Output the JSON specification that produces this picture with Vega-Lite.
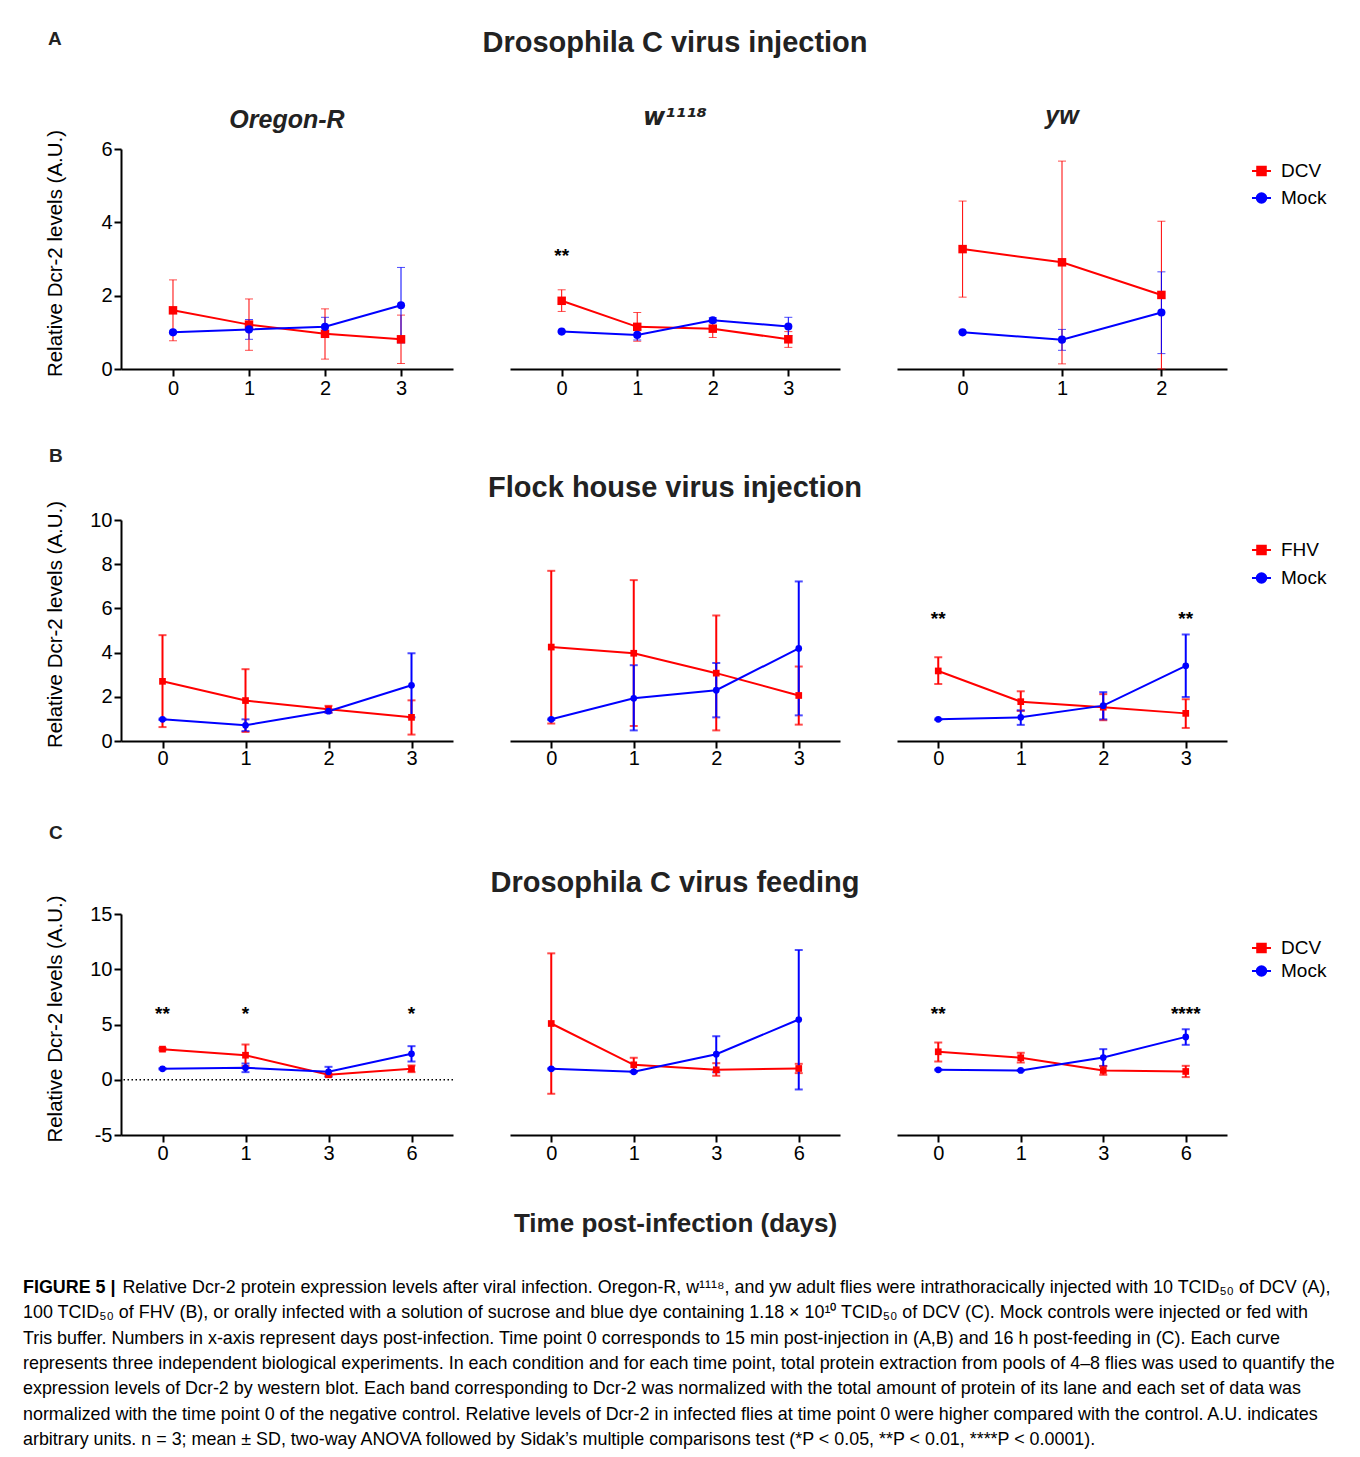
{
"$schema":"https://vega.github.io/schema/vega-lite/v6.json",
"background":"white",
"padding":{"left":22,"top":29,"right":5,"bottom":5},
"config":{
 "font":"Liberation Sans",
 "view":{"stroke":null},
 "axis":{"domainColor":"black","domainWidth":2,"tickColor":"black","tickWidth":2,"tickSize":7,"labelFont":"Liberation Sans","labelFontSize":20,"labelColor":"black","titleFont":"Liberation Sans","titleColor":"black","grid":false,"labelFlush":false},
 "title":{"color":"#222222","font":"Liberation Sans","subtitleFont":"Liberation Sans","subtitleColor":"#222222"},
 "legend":{"labelFont":"Liberation Sans"}
},
"datasets":{
 "pts":[
  {"panel":"A1","series":"DCV","day":0,"mean":1.6,"lo":0.77,"hi":2.43},
  {"panel":"A1","series":"DCV","day":1,"mean":1.21,"lo":0.51,"hi":1.91},
  {"panel":"A1","series":"DCV","day":2,"mean":0.96,"lo":0.27,"hi":1.64},
  {"panel":"A1","series":"DCV","day":3,"mean":0.81,"lo":0.15,"hi":1.47},
  {"panel":"A1","series":"Mock","day":0,"mean":1.0,"lo":0.97,"hi":1.03},
  {"panel":"A1","series":"Mock","day":1,"mean":1.08,"lo":0.81,"hi":1.35},
  {"panel":"A1","series":"Mock","day":2,"mean":1.15,"lo":0.89,"hi":1.41},
  {"panel":"A1","series":"Mock","day":3,"mean":1.74,"lo":0.71,"hi":2.77},
  {"panel":"A2","series":"DCV","day":0,"mean":1.86,"lo":1.57,"hi":2.16},
  {"panel":"A2","series":"DCV","day":1,"mean":1.15,"lo":0.76,"hi":1.54},
  {"panel":"A2","series":"DCV","day":2,"mean":1.1,"lo":0.86,"hi":1.34},
  {"panel":"A2","series":"DCV","day":3,"mean":0.81,"lo":0.59,"hi":1.02},
  {"panel":"A2","series":"Mock","day":0,"mean":1.02,"lo":1.0,"hi":1.04},
  {"panel":"A2","series":"Mock","day":1,"mean":0.93,"lo":0.79,"hi":1.07},
  {"panel":"A2","series":"Mock","day":2,"mean":1.33,"lo":1.26,"hi":1.4},
  {"panel":"A2","series":"Mock","day":3,"mean":1.16,"lo":0.91,"hi":1.41},
  {"panel":"A3","series":"DCV","day":0,"mean":3.27,"lo":1.96,"hi":4.58},
  {"panel":"A3","series":"DCV","day":1,"mean":2.91,"lo":0.14,"hi":5.67},
  {"panel":"A3","series":"DCV","day":2,"mean":2.02,"lo":0.0,"hi":4.03},
  {"panel":"A3","series":"Mock","day":0,"mean":1.0,"lo":0.98,"hi":1.02},
  {"panel":"A3","series":"Mock","day":1,"mean":0.8,"lo":0.51,"hi":1.08},
  {"panel":"A3","series":"Mock","day":2,"mean":1.54,"lo":0.42,"hi":2.65},
  {"panel":"B1","series":"FHV","day":0,"mean":2.7,"lo":0.63,"hi":4.79},
  {"panel":"B1","series":"FHV","day":1,"mean":1.83,"lo":0.41,"hi":3.25},
  {"panel":"B1","series":"FHV","day":2,"mean":1.44,"lo":1.29,"hi":1.59},
  {"panel":"B1","series":"FHV","day":3,"mean":1.07,"lo":0.29,"hi":1.84},
  {"panel":"B1","series":"Mock","day":0,"mean":0.98,"lo":0.95,"hi":1.01},
  {"panel":"B1","series":"Mock","day":1,"mean":0.71,"lo":0.45,"hi":0.98},
  {"panel":"B1","series":"Mock","day":2,"mean":1.35,"lo":1.28,"hi":1.42},
  {"panel":"B1","series":"Mock","day":3,"mean":2.52,"lo":1.07,"hi":3.97},
  {"panel":"B2","series":"FHV","day":0,"mean":4.25,"lo":0.79,"hi":7.7},
  {"panel":"B2","series":"FHV","day":1,"mean":3.97,"lo":0.68,"hi":7.28},
  {"panel":"B2","series":"FHV","day":2,"mean":3.07,"lo":0.48,"hi":5.68},
  {"panel":"B2","series":"FHV","day":3,"mean":2.06,"lo":0.74,"hi":3.37},
  {"panel":"B2","series":"Mock","day":0,"mean":0.98,"lo":0.95,"hi":1.01},
  {"panel":"B2","series":"Mock","day":1,"mean":1.93,"lo":0.48,"hi":3.43},
  {"panel":"B2","series":"Mock","day":2,"mean":2.3,"lo":1.07,"hi":3.53},
  {"panel":"B2","series":"Mock","day":3,"mean":4.19,"lo":1.16,"hi":7.22},
  {"panel":"B3","series":"FHV","day":0,"mean":3.17,"lo":2.58,"hi":3.79},
  {"panel":"B3","series":"FHV","day":1,"mean":1.78,"lo":1.36,"hi":2.25},
  {"panel":"B3","series":"FHV","day":2,"mean":1.53,"lo":0.94,"hi":2.12},
  {"panel":"B3","series":"FHV","day":3,"mean":1.25,"lo":0.59,"hi":1.89},
  {"panel":"B3","series":"Mock","day":0,"mean":0.98,"lo":0.95,"hi":1.01},
  {"panel":"B3","series":"Mock","day":1,"mean":1.07,"lo":0.73,"hi":1.39},
  {"panel":"B3","series":"Mock","day":2,"mean":1.6,"lo":0.98,"hi":2.21},
  {"panel":"B3","series":"Mock","day":3,"mean":3.4,"lo":1.99,"hi":4.82},
  {"panel":"C1","series":"DCV","day":0,"mean":2.77,"lo":2.67,"hi":2.87},
  {"panel":"C1","series":"DCV","day":1,"mean":2.22,"lo":1.25,"hi":3.19},
  {"panel":"C1","series":"DCV","day":3,"mean":0.45,"lo":0.35,"hi":0.55},
  {"panel":"C1","series":"DCV","day":6,"mean":0.99,"lo":0.69,"hi":1.29},
  {"panel":"C1","series":"Mock","day":0,"mean":0.99,"lo":0.94,"hi":1.04},
  {"panel":"C1","series":"Mock","day":1,"mean":1.08,"lo":0.69,"hi":1.47},
  {"panel":"C1","series":"Mock","day":3,"mean":0.72,"lo":0.27,"hi":1.17},
  {"panel":"C1","series":"Mock","day":6,"mean":2.35,"lo":1.65,"hi":3.04},
  {"panel":"C2","series":"DCV","day":0,"mean":5.09,"lo":-1.27,"hi":11.44},
  {"panel":"C2","series":"DCV","day":1,"mean":1.35,"lo":0.72,"hi":1.99},
  {"panel":"C2","series":"DCV","day":3,"mean":0.9,"lo":0.36,"hi":1.5},
  {"panel":"C2","series":"DCV","day":6,"mean":1.02,"lo":0.6,"hi":1.44},
  {"panel":"C2","series":"Mock","day":0,"mean":0.99,"lo":0.94,"hi":1.04},
  {"panel":"C2","series":"Mock","day":1,"mean":0.72,"lo":0.67,"hi":0.77},
  {"panel":"C2","series":"Mock","day":3,"mean":2.31,"lo":0.68,"hi":3.94},
  {"panel":"C2","series":"Mock","day":6,"mean":5.45,"lo":-0.88,"hi":11.74},
  {"panel":"C3","series":"DCV","day":0,"mean":2.53,"lo":1.65,"hi":3.37},
  {"panel":"C3","series":"DCV","day":1,"mean":1.99,"lo":1.56,"hi":2.44},
  {"panel":"C3","series":"DCV","day":3,"mean":0.84,"lo":0.45,"hi":1.23},
  {"panel":"C3","series":"DCV","day":6,"mean":0.75,"lo":0.24,"hi":1.26},
  {"panel":"C3","series":"Mock","day":0,"mean":0.9,"lo":0.85,"hi":0.95},
  {"panel":"C3","series":"Mock","day":1,"mean":0.84,"lo":0.79,"hi":0.89},
  {"panel":"C3","series":"Mock","day":3,"mean":2.01,"lo":1.25,"hi":2.77},
  {"panel":"C3","series":"Mock","day":6,"mean":3.88,"lo":3.16,"hi":4.57}
 ],
 "stars":[
  {"panel":"A2","day":0,"label":"**","y":3.23},
  {"panel":"B3","day":0,"label":"**","y":5.73},
  {"panel":"B3","day":3,"label":"**","y":5.73},
  {"panel":"C1","day":0,"label":"**","y":6.44},
  {"panel":"C1","day":1,"label":"*","y":6.44},
  {"panel":"C1","day":6,"label":"*","y":6.44},
  {"panel":"C3","day":0,"label":"**","y":6.44},
  {"panel":"C3","day":6,"label":"****","y":6.44}
 ],
 "ref":[{"panel":"C1","ref":0}],
 "blank":[{"t":""}]
},
"title":{
 "text":"FIGURE 5 |","orient":"bottom","anchor":"start","frame":"bounds","fontSize":17.9,"fontWeight":"bold","color":"black","dx":-22,"offset":43,"limit":3000,
 "subtitle":[
  "\u200b\u00a0\u00a0\u00a0\u00a0\u00a0\u00a0\u00a0\u00a0\u00a0\u00a0\u00a0\u00a0\u00a0\u00a0\u00a0\u00a0\u00a0\u00a0\u00a0\u00a0Relative Dcr-2 protein expression levels after viral infection. Oregon-R, w¹¹¹⁸, and yw adult flies were intrathoracically injected with 10 TCID₅₀ of DCV (A),",
  "100 TCID₅₀ of FHV (B), or orally infected with a solution of sucrose and blue dye containing 1.18 × 10¹⁰ TCID₅₀ of DCV (C). Mock controls were injected or fed with",
  "Tris buffer. Numbers in x-axis represent days post-infection. Time point 0 corresponds to 15 min post-injection in (A,B) and 16 h post-feeding in (C). Each curve",
  "represents three independent biological experiments. In each condition and for each time point, total protein extraction from pools of 4–8 flies was used to quantify the",
  "expression levels of Dcr-2 by western blot. Each band corresponding to Dcr-2 was normalized with the total amount of protein of its lane and each set of data was",
  "normalized with the time point 0 of the negative control. Relative levels of Dcr-2 in infected flies at time point 0 were higher compared with the control. A.U. indicates",
  "arbitrary units. n = 3; mean ± SD, two-way ANOVA followed by Sidak’s multiple comparisons test (*P < 0.05, **P < 0.01, ****P < 0.0001)."
 ],
 "subtitleFontSize":17.9,"subtitleColor":"black","subtitleFontWeight":"normal","subtitleLineHeight":25.3,"subtitlePadding":-17.9
},
"vconcat":[{
 "columns":4,
 "spacing":{"row":151,"column":57},
 "bounds":"flush",
 "align":"each",
 "title":{"text":"A","anchor":"start","fontSize":19,"fontWeight":"bold","offset":0,"dy":20,"dx":3},
 "resolve":{"scale":{"color":"independent","shape":"independent","x":"independent","y":"independent"},"legend":{"color":"independent","shape":"independent"}},
 "concat":[
  {"width":332,"height":220,
   "title":{"text":"Oregon-R","fontSize":25,"fontWeight":"bold","fontStyle":"italic","offset":-3.5,"frame":"group","anchor":"middle","limit":1000},
   "data":{"name":"pts"},"transform":[{"filter":"datum.panel === 'A1'"}],
   "encoding":{"x":{"field":"day","type":"ordinal","scale":{"type":"point","domain":[0,1,2,3],"padding":0.684},"axis":{"labelAngle":0,"labelPadding":2,"title":null}},
    "color":{"field":"series","type":"nominal","scale":{"domain":["DCV","Mock"],"range":["#ff0000","#0000ff"]},"legend":null}},
   "layer":[
    {"mark":{"type":"errorbar","ticks":true,"size":8,"thickness":1},
     "encoding":{"y":{"field":"lo","type":"quantitative","scale":{"domain":[0,6],"nice":false,"zero":false},"axis":{"values":[0,2,4,6],"title":"Relative Dcr-2 levels (A.U.)","titleFontSize":20.5,"titleFontWeight":"normal","titleX":-60,"titleY":104,"titleAngle":270,"titleAlign":"center","titleBaseline":"alphabetic","titleLimit":1000,"labelPadding":2}},"y2":{"field":"hi"}}},
    {"mark":{"type":"line","strokeWidth":2},
     "encoding":{"y":{"field":"mean","type":"quantitative","scale":{"domain":[0,6],"nice":false,"zero":false},"axis":{"values":[0,2,4,6],"title":"Relative Dcr-2 levels (A.U.)","titleFontSize":20.5,"titleFontWeight":"normal","titleX":-60,"titleY":104,"titleAngle":270,"titleAlign":"center","titleBaseline":"alphabetic","titleLimit":1000,"labelPadding":2}}}},
    {"transform":[{"filter":"datum.series !== 'Mock'"}],"mark":{"type":"point","shape":"square","filled":true,"opacity":1,"size":72},
     "encoding":{"y":{"field":"mean","type":"quantitative","scale":{"domain":[0,6],"nice":false,"zero":false},"axis":{"values":[0,2,4,6],"title":"Relative Dcr-2 levels (A.U.)","titleFontSize":20.5,"titleFontWeight":"normal","titleX":-60,"titleY":104,"titleAngle":270,"titleAlign":"center","titleBaseline":"alphabetic","titleLimit":1000,"labelPadding":2}}}},
    {"transform":[{"filter":"datum.series === 'Mock'"}],"mark":{"type":"point","shape":"circle","filled":true,"opacity":1,"size":66},
     "encoding":{"y":{"field":"mean","type":"quantitative","scale":{"domain":[0,6],"nice":false,"zero":false},"axis":{"values":[0,2,4,6],"title":"Relative Dcr-2 levels (A.U.)","titleFontSize":20.5,"titleFontWeight":"normal","titleX":-60,"titleY":104,"titleAngle":270,"titleAlign":"center","titleBaseline":"alphabetic","titleLimit":1000,"labelPadding":2}}}}
   ]},
  {"width":330,"height":220,
   "title":{"text":"Drosophila C virus injection","fontSize":29,"fontWeight":"bold","subtitle":"w¹¹¹⁸","subtitleFont":"DejaVu Sans","subtitleFontSize":24,"subtitleFontWeight":"bold","subtitleFontStyle":"italic","subtitlePadding":48,"offset":19,"frame":"group","anchor":"middle","limit":1000},
   "data":{"name":"pts"},"transform":[{"filter":"datum.panel === 'A2'"}],
   "encoding":{"x":{"field":"day","type":"ordinal","scale":{"type":"point","domain":[0,1,2,3],"padding":0.684},"axis":{"labelAngle":0,"labelPadding":2,"title":null}},
    "color":{"field":"series","type":"nominal","scale":{"domain":["DCV","Mock"],"range":["#ff0000","#0000ff"]},"legend":null}},
   "layer":[
    {"mark":{"type":"errorbar","ticks":true,"size":8,"thickness":1},
     "encoding":{"y":{"field":"lo","type":"quantitative","scale":{"domain":[0,6],"nice":false,"zero":false},"axis":null},"y2":{"field":"hi"}}},
    {"mark":{"type":"line","strokeWidth":2},
     "encoding":{"y":{"field":"mean","type":"quantitative","scale":{"domain":[0,6],"nice":false,"zero":false},"axis":null}}},
    {"transform":[{"filter":"datum.series !== 'Mock'"}],"mark":{"type":"point","shape":"square","filled":true,"opacity":1,"size":72},
     "encoding":{"y":{"field":"mean","type":"quantitative","scale":{"domain":[0,6],"nice":false,"zero":false},"axis":null}}},
    {"transform":[{"filter":"datum.series === 'Mock'"}],"mark":{"type":"point","shape":"circle","filled":true,"opacity":1,"size":66},
     "encoding":{"y":{"field":"mean","type":"quantitative","scale":{"domain":[0,6],"nice":false,"zero":false},"axis":null}}},
    {"data":{"name":"stars"},"transform":[{"filter":"datum.panel === 'A2'"}],
     "mark":{"type":"text","fontSize":19,"fontWeight":"bold","baseline":"middle","align":"center","dy":5},
     "encoding":{"y":{"field":"y","type":"quantitative","scale":{"domain":[0,6],"nice":false,"zero":false},"axis":null},"text":{"field":"label"},"color":{"value":"black"}}}
   ]},
  {"width":330,"height":220,
   "title":{"text":"yw","fontSize":25,"fontWeight":"bold","fontStyle":"italic","offset":20,"frame":"group","anchor":"middle","limit":1000},
   "data":{"name":"pts"},"transform":[{"filter":"datum.panel === 'A3'"}],
   "encoding":{"x":{"field":"day","type":"ordinal","scale":{"type":"point","domain":[0,1,2],"padding":0.66},"axis":{"labelAngle":0,"labelPadding":2,"title":null}},
    "color":{"field":"series","type":"nominal","scale":{"domain":["DCV","Mock"],"range":["#ff0000","#0000ff"]},"legend":{"orient":"none","legendX":354,"legendY":11.5,"title":null,"labelFontSize":19,"labelColor":"black","symbolSize":361,"rowPadding":6,"labelOffset":9,"padding":0,"encode":{"symbols":{"update":{"shape":{"signal":"datum.value === 'Mock' ? 'M-1,0H1M0.5,0A0.5,0.5,0,1,1,-0.5,0A0.5,0.5,0,1,1,0.5,0Z' : 'M-1,0H1M-0.45,-0.45H0.45V0.45H-0.45Z'"},"fill":{"signal":"datum.value === 'Mock' ? '#0000ff' : '#ff0000'"},"stroke":{"signal":"datum.value === 'Mock' ? '#0000ff' : '#ff0000'"},"strokeWidth":{"value":2},"opacity":{"value":1}}}}}}},
   "layer":[
    {"mark":{"type":"errorbar","ticks":true,"size":8,"thickness":1},
     "encoding":{"y":{"field":"lo","type":"quantitative","scale":{"domain":[0,6],"nice":false,"zero":false},"axis":null},"y2":{"field":"hi"}}},
    {"mark":{"type":"line","strokeWidth":2},
     "encoding":{"y":{"field":"mean","type":"quantitative","scale":{"domain":[0,6],"nice":false,"zero":false},"axis":null}}},
    {"transform":[{"filter":"datum.series !== 'Mock'"}],"mark":{"type":"point","shape":"square","filled":true,"opacity":1,"size":72},
     "encoding":{"y":{"field":"mean","type":"quantitative","scale":{"domain":[0,6],"nice":false,"zero":false},"axis":null}}},
    {"transform":[{"filter":"datum.series === 'Mock'"}],"mark":{"type":"point","shape":"circle","filled":true,"opacity":1,"size":66},
     "encoding":{"y":{"field":"mean","type":"quantitative","scale":{"domain":[0,6],"nice":false,"zero":false},"axis":null}}}
   ]},
  {"width":1,"height":220,"data":{"name":"blank"},"mark":{"type":"text"},"encoding":{"text":{"field":"t"}}},

  {"width":332,"height":221,
   "title":{"text":"B","fontSize":19,"fontWeight":"bold","offset":34,"frame":"group","anchor":"start","dx":-72},
   "data":{"name":"pts"},"transform":[{"filter":"datum.panel === 'B1'"}],
   "encoding":{"x":{"field":"day","type":"ordinal","scale":{"type":"point","domain":[0,1,2,3],"padding":0.5},"axis":{"labelAngle":0,"labelPadding":0,"title":null}},
    "color":{"field":"series","type":"nominal","scale":{"domain":["FHV","Mock"],"range":["#ff0000","#0000ff"]},"legend":null}},
   "layer":[
    {"mark":{"type":"errorbar","ticks":true,"size":8,"thickness":2},
     "encoding":{"y":{"field":"lo","type":"quantitative","scale":{"domain":[0,10],"nice":false,"zero":false},"axis":{"values":[0,2,4,6,8,10],"title":"Relative Dcr-2 levels (A.U.)","titleFontSize":20.5,"titleFontWeight":"normal","titleX":-60,"titleY":104,"titleAngle":270,"titleAlign":"center","titleBaseline":"alphabetic","titleLimit":1000,"labelPadding":2}},"y2":{"field":"hi"}}},
    {"mark":{"type":"line","strokeWidth":2},
     "encoding":{"y":{"field":"mean","type":"quantitative","scale":{"domain":[0,10],"nice":false,"zero":false},"axis":{"values":[0,2,4,6,8,10],"title":"Relative Dcr-2 levels (A.U.)","titleFontSize":20.5,"titleFontWeight":"normal","titleX":-60,"titleY":104,"titleAngle":270,"titleAlign":"center","titleBaseline":"alphabetic","titleLimit":1000,"labelPadding":2}}}},
    {"transform":[{"filter":"datum.series !== 'Mock'"}],"mark":{"type":"point","shape":"square","filled":true,"opacity":1,"size":45},
     "encoding":{"y":{"field":"mean","type":"quantitative","scale":{"domain":[0,10],"nice":false,"zero":false},"axis":{"values":[0,2,4,6,8,10],"title":"Relative Dcr-2 levels (A.U.)","titleFontSize":20.5,"titleFontWeight":"normal","titleX":-60,"titleY":104,"titleAngle":270,"titleAlign":"center","titleBaseline":"alphabetic","titleLimit":1000,"labelPadding":2}}}},
    {"transform":[{"filter":"datum.series === 'Mock'"}],"mark":{"type":"point","shape":"circle","filled":true,"opacity":1,"size":45},
     "encoding":{"y":{"field":"mean","type":"quantitative","scale":{"domain":[0,10],"nice":false,"zero":false},"axis":{"values":[0,2,4,6,8,10],"title":"Relative Dcr-2 levels (A.U.)","titleFontSize":20.5,"titleFontWeight":"normal","titleX":-60,"titleY":104,"titleAngle":270,"titleAlign":"center","titleBaseline":"alphabetic","titleLimit":1000,"labelPadding":2}}}}
   ]},
  {"width":330,"height":221,
   "title":{"text":"Flock house virus injection","fontSize":29,"fontWeight":"bold","offset":17,"frame":"group","anchor":"middle","limit":1000},
   "data":{"name":"pts"},"transform":[{"filter":"datum.panel === 'B2'"}],
   "encoding":{"x":{"field":"day","type":"ordinal","scale":{"type":"point","domain":[0,1,2,3],"padding":0.5},"axis":{"labelAngle":0,"labelPadding":0,"title":null}},
    "color":{"field":"series","type":"nominal","scale":{"domain":["FHV","Mock"],"range":["#ff0000","#0000ff"]},"legend":null}},
   "layer":[
    {"mark":{"type":"errorbar","ticks":true,"size":8,"thickness":2},
     "encoding":{"y":{"field":"lo","type":"quantitative","scale":{"domain":[0,10],"nice":false,"zero":false},"axis":null},"y2":{"field":"hi"}}},
    {"mark":{"type":"line","strokeWidth":2},
     "encoding":{"y":{"field":"mean","type":"quantitative","scale":{"domain":[0,10],"nice":false,"zero":false},"axis":null}}},
    {"transform":[{"filter":"datum.series !== 'Mock'"}],"mark":{"type":"point","shape":"square","filled":true,"opacity":1,"size":45},
     "encoding":{"y":{"field":"mean","type":"quantitative","scale":{"domain":[0,10],"nice":false,"zero":false},"axis":null}}},
    {"transform":[{"filter":"datum.series === 'Mock'"}],"mark":{"type":"point","shape":"circle","filled":true,"opacity":1,"size":45},
     "encoding":{"y":{"field":"mean","type":"quantitative","scale":{"domain":[0,10],"nice":false,"zero":false},"axis":null}}}
   ]},
  {"width":330,"height":221,
   "data":{"name":"pts"},"transform":[{"filter":"datum.panel === 'B3'"}],
   "encoding":{"x":{"field":"day","type":"ordinal","scale":{"type":"point","domain":[0,1,2,3],"padding":0.5},"axis":{"labelAngle":0,"labelPadding":0,"title":null}},
    "color":{"field":"series","type":"nominal","scale":{"domain":["FHV","Mock"],"range":["#ff0000","#0000ff"]},"legend":{"orient":"none","legendX":354,"legendY":19.5,"title":null,"labelFontSize":19,"labelColor":"black","symbolSize":361,"rowPadding":7,"labelOffset":9,"padding":0,"encode":{"symbols":{"update":{"shape":{"signal":"datum.value === 'Mock' ? 'M-1,0H1M0.5,0A0.5,0.5,0,1,1,-0.5,0A0.5,0.5,0,1,1,0.5,0Z' : 'M-1,0H1M-0.45,-0.45H0.45V0.45H-0.45Z'"},"fill":{"signal":"datum.value === 'Mock' ? '#0000ff' : '#ff0000'"},"stroke":{"signal":"datum.value === 'Mock' ? '#0000ff' : '#ff0000'"},"strokeWidth":{"value":2},"opacity":{"value":1}}}}}}},
   "layer":[
    {"mark":{"type":"errorbar","ticks":true,"size":8,"thickness":2},
     "encoding":{"y":{"field":"lo","type":"quantitative","scale":{"domain":[0,10],"nice":false,"zero":false},"axis":null},"y2":{"field":"hi"}}},
    {"mark":{"type":"line","strokeWidth":2},
     "encoding":{"y":{"field":"mean","type":"quantitative","scale":{"domain":[0,10],"nice":false,"zero":false},"axis":null}}},
    {"transform":[{"filter":"datum.series !== 'Mock'"}],"mark":{"type":"point","shape":"square","filled":true,"opacity":1,"size":45},
     "encoding":{"y":{"field":"mean","type":"quantitative","scale":{"domain":[0,10],"nice":false,"zero":false},"axis":null}}},
    {"transform":[{"filter":"datum.series === 'Mock'"}],"mark":{"type":"point","shape":"circle","filled":true,"opacity":1,"size":45},
     "encoding":{"y":{"field":"mean","type":"quantitative","scale":{"domain":[0,10],"nice":false,"zero":false},"axis":null}}},
    {"data":{"name":"stars"},"transform":[{"filter":"datum.panel === 'B3'"}],
     "mark":{"type":"text","fontSize":19,"fontWeight":"bold","baseline":"middle","align":"center","dy":5},
     "encoding":{"y":{"field":"y","type":"quantitative","scale":{"domain":[0,10],"nice":false,"zero":false},"axis":null},"text":{"field":"label"},"color":{"value":"black"}}}
   ]},
  {"width":1,"height":243,"data":{"name":"blank"},"mark":{"type":"text"},"encoding":{"text":{"field":"t"}}},

  {"width":332,"height":221,
   "title":{"text":"C","fontSize":19,"fontWeight":"bold","offset":52,"frame":"group","anchor":"start","dx":-72},
   "data":{"name":"pts"},"transform":[{"filter":"datum.panel === 'C1'"}],
   "encoding":{"x":{"field":"day","type":"ordinal","scale":{"type":"point","domain":[0,1,3,6],"padding":0.5},"axis":{"labelAngle":0,"labelPadding":1,"title":null}},
    "color":{"field":"series","type":"nominal","scale":{"domain":["DCV","Mock"],"range":["#ff0000","#0000ff"]},"legend":null}},
   "layer":[
    {"data":{"name":"ref"},
     "mark":{"type":"rule","strokeDash":[1.5,2.5],"strokeWidth":1.5},
     "encoding":{"x":null,"color":{"value":"black"},"y":{"field":"ref","type":"quantitative","scale":{"domain":[-5,15],"nice":false,"zero":false},"axis":{"values":[-5,0,5,10,15],"labelExpr":"'' + datum.value","title":"Relative Dcr-2 levels (A.U.)","titleFontSize":20.5,"titleFontWeight":"normal","titleX":-60,"titleY":104.5,"titleAngle":270,"titleAlign":"center","titleBaseline":"alphabetic","titleLimit":1000,"labelPadding":2}}}},
    {"mark":{"type":"errorbar","ticks":true,"size":8,"thickness":2},
     "encoding":{"y":{"field":"lo","type":"quantitative","scale":{"domain":[-5,15],"nice":false,"zero":false},"axis":{"values":[-5,0,5,10,15],"labelExpr":"'' + datum.value","title":"Relative Dcr-2 levels (A.U.)","titleFontSize":20.5,"titleFontWeight":"normal","titleX":-60,"titleY":104.5,"titleAngle":270,"titleAlign":"center","titleBaseline":"alphabetic","titleLimit":1000,"labelPadding":2}},"y2":{"field":"hi"}}},
    {"mark":{"type":"line","strokeWidth":2},
     "encoding":{"y":{"field":"mean","type":"quantitative","scale":{"domain":[-5,15],"nice":false,"zero":false},"axis":{"values":[-5,0,5,10,15],"labelExpr":"'' + datum.value","title":"Relative Dcr-2 levels (A.U.)","titleFontSize":20.5,"titleFontWeight":"normal","titleX":-60,"titleY":104.5,"titleAngle":270,"titleAlign":"center","titleBaseline":"alphabetic","titleLimit":1000,"labelPadding":2}}}},
    {"transform":[{"filter":"datum.series !== 'Mock'"}],"mark":{"type":"point","shape":"square","filled":true,"opacity":1,"size":45},
     "encoding":{"y":{"field":"mean","type":"quantitative","scale":{"domain":[-5,15],"nice":false,"zero":false},"axis":{"values":[-5,0,5,10,15],"labelExpr":"'' + datum.value","title":"Relative Dcr-2 levels (A.U.)","titleFontSize":20.5,"titleFontWeight":"normal","titleX":-60,"titleY":104.5,"titleAngle":270,"titleAlign":"center","titleBaseline":"alphabetic","titleLimit":1000,"labelPadding":2}}}},
    {"transform":[{"filter":"datum.series === 'Mock'"}],"mark":{"type":"point","shape":"circle","filled":true,"opacity":1,"size":45},
     "encoding":{"y":{"field":"mean","type":"quantitative","scale":{"domain":[-5,15],"nice":false,"zero":false},"axis":{"values":[-5,0,5,10,15],"labelExpr":"'' + datum.value","title":"Relative Dcr-2 levels (A.U.)","titleFontSize":20.5,"titleFontWeight":"normal","titleX":-60,"titleY":104.5,"titleAngle":270,"titleAlign":"center","titleBaseline":"alphabetic","titleLimit":1000,"labelPadding":2}}}},
    {"data":{"name":"stars"},"transform":[{"filter":"datum.panel === 'C1'"}],
     "mark":{"type":"text","fontSize":19,"fontWeight":"bold","baseline":"middle","align":"center","dy":5},
     "encoding":{"y":{"field":"y","type":"quantitative","scale":{"domain":[-5,15],"nice":false,"zero":false},"axis":{"values":[-5,0,5,10,15],"labelExpr":"'' + datum.value","title":"Relative Dcr-2 levels (A.U.)","titleFontSize":20.5,"titleFontWeight":"normal","titleX":-60,"titleY":104.5,"titleAngle":270,"titleAlign":"center","titleBaseline":"alphabetic","titleLimit":1000,"labelPadding":2}},"text":{"field":"label"},"color":{"value":"black"}}}
   ]},
  {"width":330,"height":221,
   "title":{"text":"Drosophila C virus feeding","fontSize":29,"fontWeight":"bold","offset":16,"frame":"group","anchor":"middle","limit":1000},
   "data":{"name":"pts"},"transform":[{"filter":"datum.panel === 'C2'"}],
   "encoding":{"x":{"field":"day","type":"ordinal","scale":{"type":"point","domain":[0,1,3,6],"padding":0.5},"axis":{"labelAngle":0,"labelPadding":1,"title":"Time post-infection (days)","titleFontSize":26,"titleFontWeight":"bold","titleColor":"#222222","titleX":165,"titleY":96,"titleAlign":"center","titleBaseline":"alphabetic","titleLimit":1000}},
    "color":{"field":"series","type":"nominal","scale":{"domain":["DCV","Mock"],"range":["#ff0000","#0000ff"]},"legend":null}},
   "layer":[
    {"mark":{"type":"errorbar","ticks":true,"size":8,"thickness":2},
     "encoding":{"y":{"field":"lo","type":"quantitative","scale":{"domain":[-5,15],"nice":false,"zero":false},"axis":null},"y2":{"field":"hi"}}},
    {"mark":{"type":"line","strokeWidth":2},
     "encoding":{"y":{"field":"mean","type":"quantitative","scale":{"domain":[-5,15],"nice":false,"zero":false},"axis":null}}},
    {"transform":[{"filter":"datum.series !== 'Mock'"}],"mark":{"type":"point","shape":"square","filled":true,"opacity":1,"size":45},
     "encoding":{"y":{"field":"mean","type":"quantitative","scale":{"domain":[-5,15],"nice":false,"zero":false},"axis":null}}},
    {"transform":[{"filter":"datum.series === 'Mock'"}],"mark":{"type":"point","shape":"circle","filled":true,"opacity":1,"size":45},
     "encoding":{"y":{"field":"mean","type":"quantitative","scale":{"domain":[-5,15],"nice":false,"zero":false},"axis":null}}}
   ]},
  {"width":330,"height":221,
   "data":{"name":"pts"},"transform":[{"filter":"datum.panel === 'C3'"}],
   "encoding":{"x":{"field":"day","type":"ordinal","scale":{"type":"point","domain":[0,1,3,6],"padding":0.5},"axis":{"labelAngle":0,"labelPadding":1,"title":null}},
    "color":{"field":"series","type":"nominal","scale":{"domain":["DCV","Mock"],"range":["#ff0000","#0000ff"]},"legend":{"orient":"none","legendX":354,"legendY":23.5,"title":null,"labelFontSize":19,"labelColor":"black","symbolSize":361,"rowPadding":2,"labelOffset":9,"padding":0,"encode":{"symbols":{"update":{"shape":{"signal":"datum.value === 'Mock' ? 'M-1,0H1M0.5,0A0.5,0.5,0,1,1,-0.5,0A0.5,0.5,0,1,1,0.5,0Z' : 'M-1,0H1M-0.45,-0.45H0.45V0.45H-0.45Z'"},"fill":{"signal":"datum.value === 'Mock' ? '#0000ff' : '#ff0000'"},"stroke":{"signal":"datum.value === 'Mock' ? '#0000ff' : '#ff0000'"},"strokeWidth":{"value":2},"opacity":{"value":1}}}}}}},
   "layer":[
    {"mark":{"type":"errorbar","ticks":true,"size":8,"thickness":2},
     "encoding":{"y":{"field":"lo","type":"quantitative","scale":{"domain":[-5,15],"nice":false,"zero":false},"axis":null},"y2":{"field":"hi"}}},
    {"mark":{"type":"line","strokeWidth":2},
     "encoding":{"y":{"field":"mean","type":"quantitative","scale":{"domain":[-5,15],"nice":false,"zero":false},"axis":null}}},
    {"transform":[{"filter":"datum.series !== 'Mock'"}],"mark":{"type":"point","shape":"square","filled":true,"opacity":1,"size":45},
     "encoding":{"y":{"field":"mean","type":"quantitative","scale":{"domain":[-5,15],"nice":false,"zero":false},"axis":null}}},
    {"transform":[{"filter":"datum.series === 'Mock'"}],"mark":{"type":"point","shape":"circle","filled":true,"opacity":1,"size":45},
     "encoding":{"y":{"field":"mean","type":"quantitative","scale":{"domain":[-5,15],"nice":false,"zero":false},"axis":null}}},
    {"data":{"name":"stars"},"transform":[{"filter":"datum.panel === 'C3'"}],
     "mark":{"type":"text","fontSize":19,"fontWeight":"bold","baseline":"middle","align":"center","dy":5},
     "encoding":{"y":{"field":"y","type":"quantitative","scale":{"domain":[-5,15],"nice":false,"zero":false},"axis":null},"text":{"field":"label"},"color":{"value":"black"}}}
   ]},
  {"width":1,"height":221,"data":{"name":"blank"},"mark":{"type":"text"},"encoding":{"text":{"field":"t"}}}
 ]
}]
}
